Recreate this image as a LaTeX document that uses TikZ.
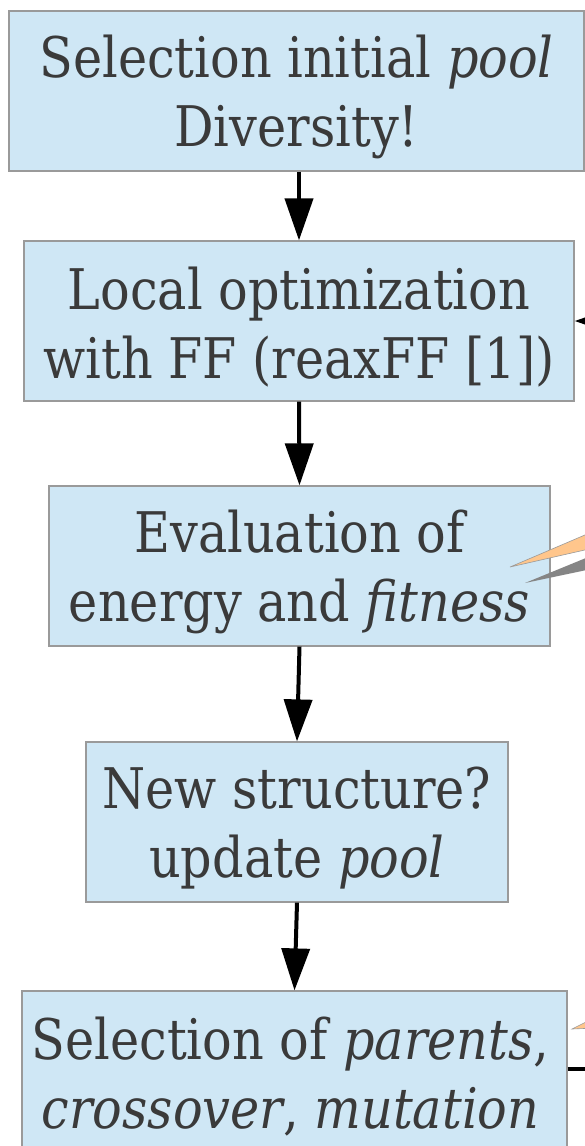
\documentclass[tikz,border=0pt]{standalone}
\usepackage{fontspec}
\setmainfont{DejaVu Serif}[FakeStretch=0.88]
\usetikzlibrary{arrows.meta}
\definecolor{boxfill}{HTML}{CFE7F5}
\definecolor{boxline}{HTML}{9A9A9A}
\definecolor{txt}{HTML}{3A3A3A}
\definecolor{peach}{HTML}{FFC68C}
\definecolor{wedgegray}{HTML}{858585}
\tikzset{
  box/.style={draw=boxline, line width=1.2pt, fill=boxfill, minimum height=160pt, inner sep=0pt},
  boxtext/.style={text=txt, align=center, inner sep=0pt, yshift=-6pt,
    font=\fontsize{56}{69}\selectfont},
  arr/.style={line width=4pt, -{Triangle[length=42pt,width=28pt]}},
}
\begin{document}
\begin{tikzpicture}[x=1pt,y=1pt]
\useasboundingbox (0,0) rectangle (585,-1146);
\clip (0,0) rectangle (585,-1146);
\node[box, minimum width=575pt] (b1) at (296.5,-91) {};
\node[box, minimum width=550pt] (b2) at (299,-321) {};
\node[box, minimum width=501pt] (b3) at (299.5,-566) {};
\node[box, minimum width=422pt] (b4) at (297,-822) {};
\node[box, minimum width=545pt] (b5) at (294.5,-1071) {};
\node[boxtext] (t1) at (b1.center) {Selection initial \textit{pool}\\Diversity!};
\node[boxtext] (t2) at (b2.center) {Local optimization\\with FF (reaxFF [1])};
\node[boxtext] (t3) at (b3.center) {Evaluation of\\energy and \textit{fitness}};
\node[boxtext] (t4) at (b4.center) {New structure?\\update \textit{pool}};
\node[boxtext] (t5) at ([xshift=-4pt]b5.center) {Selection of \textit{parents},\\\textit{crossover}, \textit{mutation}};
\draw[arr] (b1.south -| b2.north) -- (b2.north);
\draw[arr] (b2.south) -- (b3.north);
\draw[arr] (b3.south) -- (b4.north);
\draw[arr] (b4.south) -- (b5.north);
\coordinate (loopin) at (660,-321);
\draw[arr] (loopin) -- (b2.east);
% callout wedges
\coordinate (w1tip) at (510,-567);
\coordinate (w2tip) at (525,-583);
\coordinate (w3tip) at (572,-1029);
\fill[peach, draw=boxline, line width=0.6pt] (w1tip) -- (620,-520) -- (620,-542) -- cycle;
\fill[wedgegray] (w2tip) -- (620,-544) -- (620,-563) -- cycle;
\fill[peach, draw=boxline, line width=0.6pt] (w3tip) -- (620,-1005) -- (620,-1027) -- cycle;
\coordinate (outline) at (620,-1069);
\draw[line width=4pt] (b5.east |- outline) -- (outline);
\end{tikzpicture}
\end{document}
